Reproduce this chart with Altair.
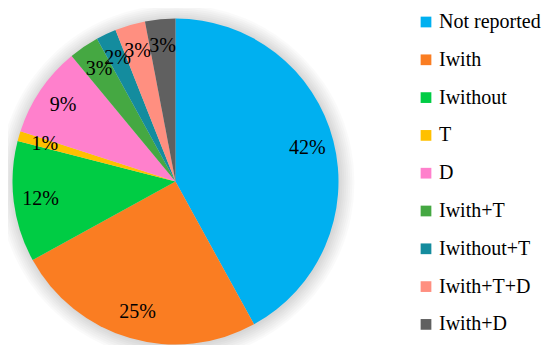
import altair as alt
import pandas as pd

categories = ["Not reported", "Iwith", "Iwithout", "T", "D",
              "Iwith+T", "Iwithout+T", "Iwith+T+D", "Iwith+D"]
values = [42, 25, 12, 1, 9, 3, 2, 3, 3]
labels = ["42%", "25%", "12%", "1%", "9%", "3%", "2%", "3%", "3%"]
colors = ["#00B0F0", "#FA7D22", "#00CC44", "#FFC000", "#FF80CC",
          "#45A842", "#148C9E", "#FF8F80", "#606060"]

df = pd.DataFrame({
    "category": categories,
    "value": values,
    "label": labels,
    "order": list(range(len(categories))),
})

FONT = "Liberation Serif"
CX, CY = 167.5, 173.5
R = 163

# soft drop shadow around the pie (decorative)
shadow_src = pd.DataFrame({"full": [1]})
shadow_layers = []
for k in range(8):
    shadow_layers.append(
        alt.Chart(shadow_src).mark_arc(
            radius=R + 1 + 2 * k, theta=0, theta2=6.2832,
            color="#000000", opacity=0.018,
        ).encode(x=alt.value(CX + 1), y=alt.value(CY + 1))
    )

base = alt.Chart(df).encode(
    theta=alt.Theta("value:Q", stack=True),
    order=alt.Order("order:Q"),
    x=alt.value(CX),
    y=alt.value(CY),
)

pie = base.mark_arc(radius=R).encode(
    color=alt.Color(
        "category:N",
        scale=alt.Scale(domain=categories, range=colors),
        sort=categories,
        legend=alt.Legend(
            title=None,
            orient="none",
            legendX=408,
            legendY=4,
            symbolType="square",
            symbolSize=115,
            symbolStrokeWidth=0,
            labelFont=FONT,
            labelFontSize=20,
            labelColor="#000000",
            rowPadding=17.8,
            labelOffset=3,
            labelLimit=300,
        ),
    )
)

text = base.mark_text(radius=136, font=FONT, fontSize=20, color="#000000").encode(
    text="label:N"
)

chart = alt.layer(*shadow_layers, pie, text).properties(
    width=534, height=337, padding=0,
    autosize=alt.AutoSizeParams(type="none"),
).configure_view(stroke=None)

chart.save("out.html", embed_options={"renderer": "svg", "actions": False})
